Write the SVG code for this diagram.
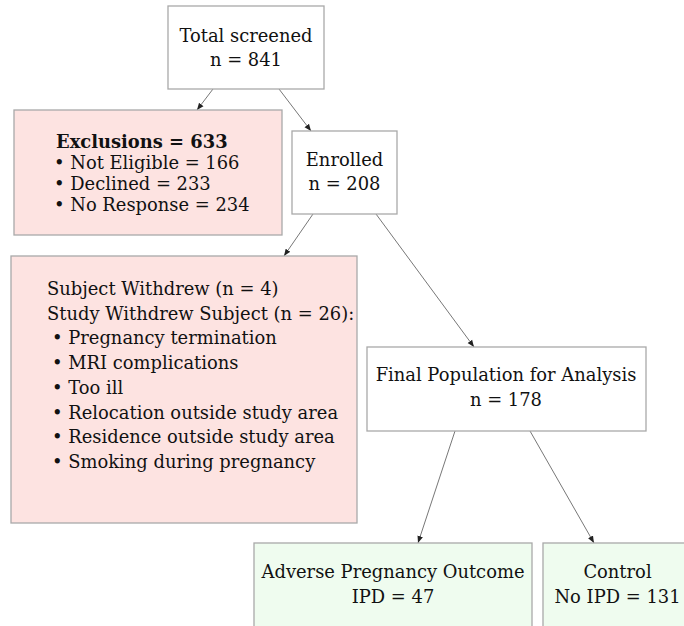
<svg xmlns="http://www.w3.org/2000/svg" width="684" height="626" viewBox="0 0 684 626">
<style>
.box{stroke:#a9a9a9;stroke-width:1.3}
.w{fill:#ffffff}
.p{fill:#fde3e1}
.g{fill:#effcef}
text{font-family:"DejaVu Serif","Liberation Serif",serif;font-size:17.9px;fill:#111111}
.c{text-anchor:middle}
.b{font-weight:bold}
.ln{stroke:#777;stroke-width:1;fill:none;marker-end:url(#ah)}
</style>
<defs>
<marker id="ah" markerWidth="8" markerHeight="8" refX="7" refY="4" orient="auto" markerUnits="userSpaceOnUse">
<path d="M0,1.2 L7,4 L0,6.8 Z" fill="#222"/>
</marker>
</defs>
<rect width="684" height="626" fill="#ffffff"/>
<g id="connectors">
<line class="ln" x1="213" y1="89" x2="197" y2="110"/>
<line class="ln" x1="279" y1="89" x2="311" y2="131"/>
<line class="ln" x1="313" y1="214" x2="284" y2="256"/>
<line class="ln" x1="376" y1="214" x2="474" y2="347"/>
<line class="ln" x1="455" y1="431" x2="418" y2="543"/>
<line class="ln" x1="530" y1="431" x2="594" y2="543"/>
</g>
<g id="total">
<rect class="box w" x="168" y="6" width="156" height="83"/>
<text class="c" x="246" y="42">Total screened</text>
<text class="c" x="246" y="66">n = 841</text>
</g>
<g id="exclusions">
<rect class="box p" x="14" y="110" width="268" height="125"/>
<text class="b" x="56" y="148">Exclusions = 633</text>
<text x="54" y="169">• Not Eligible = 166</text>
<text x="54" y="190">• Declined = 233</text>
<text x="54" y="211">• No Response = 234</text>
</g>
<g id="enrolled">
<rect class="box w" x="292" y="131" width="105" height="83"/>
<text class="c" x="344.5" y="166">Enrolled</text>
<text class="c" x="344.5" y="190">n = 208</text>
</g>
<g id="withdrew">
<rect class="box p" x="11" y="256" width="346" height="267"/>
<text x="47" y="295">Subject Withdrew (n = 4)</text>
<text x="47" y="320">Study Withdrew Subject (n = 26):</text>
<text x="52" y="344">• Pregnancy termination</text>
<text x="52" y="369">• MRI complications</text>
<text x="52" y="394">• Too ill</text>
<text x="52" y="419">• Relocation outside study area</text>
<text x="52" y="443">• Residence outside study area</text>
<text x="52" y="468">• Smoking during pregnancy</text>
</g>
<g id="final">
<rect class="box w" x="367" y="347" width="279" height="84"/>
<text class="c" x="506" y="381">Final Population for Analysis</text>
<text class="c" x="506" y="406">n = 178</text>
</g>
<g id="adverse">
<rect class="box g" x="254" y="543" width="278" height="95"/>
<text class="c" x="393" y="578">Adverse Pregnancy Outcome</text>
<text class="c" x="393" y="603">IPD = 47</text>
</g>
<g id="control">
<rect class="box g" x="543" y="543" width="150" height="95"/>
<text class="c" x="617.5" y="578">Control</text>
<text class="c" x="617.5" y="603">No IPD = 131</text>
</g>
</svg>
